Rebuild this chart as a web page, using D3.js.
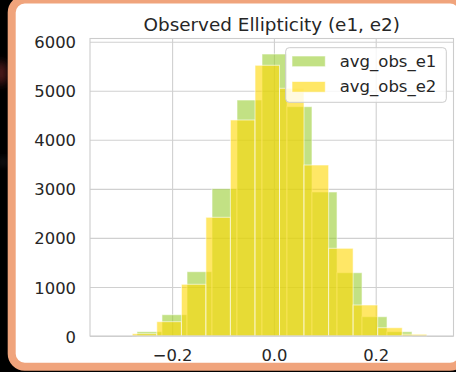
<!DOCTYPE html>
<html>
<head>
<meta charset="utf-8">
<script src="https://cdn.jsdelivr.net/npm/d3@7"></script>
<style>
  html, body { margin: 0; padding: 0; background: #000; }
  svg { display: block; }
  text { font-family: "DejaVu Sans", sans-serif; fill: #262626; }
</style>
</head>
<body>
<svg id="chart" width="456" height="372"></svg>
<script>
// Histogram bin edges and counts for each ellipticity component
const e1Edges = [-0.269, -0.2199, -0.1707, -0.1216, -0.0725, -0.0234, 0.0257, 0.0748, 0.1240, 0.1731, 0.2222, 0.2713];
const e1Counts = [88, 434, 1311, 3003, 4811, 5749, 4675, 2936, 1290, 393, 88];

const e2Edges = [-0.2782, -0.2301, -0.1817, -0.1336, -0.0855, -0.0371, 0.0110, 0.0591, 0.1075, 0.1556, 0.2039, 0.2521, 0.3002];
const e2Counts = [47, 292, 1054, 2420, 4404, 5519, 5050, 3486, 1788, 632, 169, 35];

const seriesNames = ["avg_obs_e1", "avg_obs_e2"];
const seriesColors = ["#9acd32", "#ffd700"];

const xTicks = [-0.2, 0.0, 0.2];
const yTicks = [0, 1000, 2000, 3000, 4000, 5000, 6000];
const xDomain = [-0.3613, 0.3528];
const yDomain = [0, 6065];

const titleText = "Observed Ellipticity (e1, e2)";

const svg = d3.select("#chart");

// backdrop glow on the dark strip
const defs = svg.append("defs");
defs.append("filter").attr("id", "soft")
  .attr("x", "-100%").attr("y", "-100%").attr("width", "300%").attr("height", "300%")
  .append("feGaussianBlur").attr("stdDeviation", 4);
svg.append("ellipse").attr("cx", 1).attr("cy", 73).attr("rx", 6).attr("ry", 12)
  .attr("fill", "#7a2a2a").attr("opacity", 0.7).attr("filter", "url(#soft)");
svg.append("circle").attr("cx", 3).attr("cy", 162).attr("r", 2.5)
  .attr("fill", "#8a8f99").attr("opacity", 0.6).attr("filter", "url(#soft)");

// card
svg.append("rect")
  .attr("x", 11.7).attr("y", -0.5)
  .attr("width", 451.3).attr("height", 367.2)
  .attr("rx", 13).attr("ry", 13)
  .attr("fill", "#ffffff")
  .attr("stroke", "#f0a47c").attr("stroke-width", 8);

const plot = { left: 90, right: 453.5, top: 38.5, bottom: 336 };
const W = plot.right - plot.left, H = plot.bottom - plot.top;

const x = d3.scaleLinear().domain(xDomain).range([0, W]);
const y = d3.scaleLinear().domain(yDomain).range([H, 0]);

const g = svg.append("g").attr("transform", `translate(${plot.left},${plot.top})`);

// axes with full-length ticks acting as the grid
const yAxis = g.append("g")
  .call(d3.axisLeft(y).tickValues(yTicks).tickSize(-W).tickPadding(14).tickFormat(d3.format("d")));
const xAxis = g.append("g").attr("transform", `translate(0,${H})`)
  .call(d3.axisBottom(x).tickValues(xTicks).tickSize(-H).tickPadding(13.4).tickFormat(d3.format(".1f")));

[xAxis, yAxis].forEach(a => {
  a.select(".domain").remove();
  a.selectAll(".tick line").attr("stroke", "#d0d0d0").attr("stroke-width", 1.1);
  a.selectAll(".tick text")
    .attr("fill", "#262626")
    .style("font-family", "'DejaVu Sans', sans-serif")
    .style("font-size", "16.4px");
});
yAxis.selectAll(".tick text").attr("dy", "0.37em");

// histogram bars
function drawHist(edges, counts, color) {
  const bins = counts.map((c, i) => ({ x0: edges[i], x1: edges[i + 1], n: c }));
  g.append("g").selectAll("rect").data(bins).join("rect")
    .attr("x", d => x(d.x0))
    .attr("y", d => y(d.n))
    .attr("width", d => x(d.x1) - x(d.x0))
    .attr("height", d => y(0) - y(d.n))
    .attr("fill", color).attr("fill-opacity", 0.6)
    .attr("stroke", "#ffffff").attr("stroke-opacity", 0.6).attr("stroke-width", 1);
}
drawHist(e1Edges, e1Counts, seriesColors[0]);
drawHist(e2Edges, e2Counts, seriesColors[1]);

// frame
g.append("rect").attr("width", W).attr("height", H)
  .attr("fill", "none").attr("stroke", "#cccccc").attr("stroke-width", 1.1);

// title
svg.append("text")
  .attr("x", plot.left + W / 2).attr("y", 30.7)
  .attr("text-anchor", "middle")
  .style("font-size", "18.4px")
  .text(titleText);

// legend
const legend = svg.append("g").attr("transform", "translate(285.7,47.7)");
legend.append("rect")
  .attr("width", 160.6).attr("height", 54.6).attr("rx", 3.5)
  .attr("fill", "#ffffff").attr("fill-opacity", 0.8)
  .attr("stroke", "#cccccc").attr("stroke-width", 1);
seriesNames.forEach((name, i) => {
  const row = legend.append("g").attr("transform", `translate(0,${i * 25.5})`);
  row.append("rect")
    .attr("x", 6.3).attr("y", 8.3).attr("width", 33.3).attr("height", 10.7)
    .attr("fill", seriesColors[i]).attr("fill-opacity", 0.6)
    .attr("stroke", "#ffffff").attr("stroke-opacity", 0.6).attr("stroke-width", 1);
  row.append("text")
    .attr("x", 54).attr("y", 19)
    .style("font-size", "16.5px")
    .text(name);
});
</script>
</body>
</html>
